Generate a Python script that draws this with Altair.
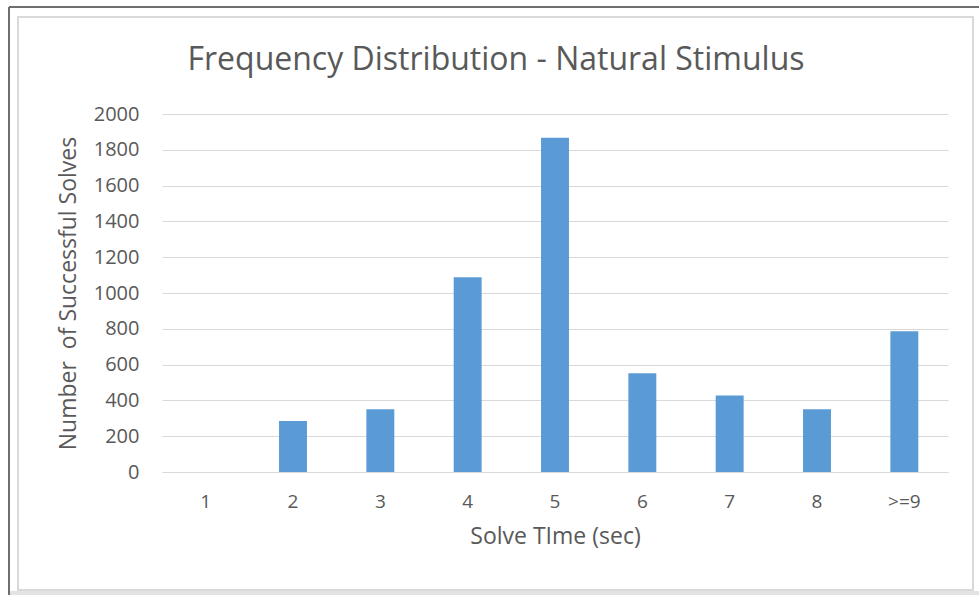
import altair as alt
import pandas as pd

categories = ["1", "2", "3", "4", "5", "6", "7", "8", ">=9"]
solves = [0, 285, 350, 1088, 1868, 551, 428, 350, 786]
y_ticks = list(range(0, 2001, 200))

df = pd.DataFrame({"time": categories, "count": solves})

TEXT = "#595959"
GRID = "#d9d9d9"
FONT = "Open Sans"

bars = alt.Chart(df).mark_bar(color="#5B9BD5").encode(
    x=alt.X(
        "time:N",
        sort=categories,
        scale=alt.Scale(paddingInner=0.68, paddingOuter=0.34),
        axis=alt.Axis(
            title="Solve TIme (sec)",
            labelAngle=0,
            labelPadding=20,
            titlePadding=14,
            ticks=False,
            domainColor=GRID,
            domainWidth=1.2,
            labelFontSize=19,
        ),
    ),
    y=alt.Y(
        "count:Q",
        scale=alt.Scale(domain=[0, 2000], nice=False),
        axis=alt.Axis(
            title="Number\u00a0\u00a0of Successful Solves",
            values=y_ticks,
            format="d",
            labelPadding=23,
            titlePadding=13,
            ticks=False,
            domain=False,
            gridColor=GRID,
            gridWidth=1.2,
            labelFontSize=20,
        ),
    ),
)

frame_data = alt.Data(values=[{"k": 0}])

frame = alt.Chart(frame_data).mark_rect(
    fill="white", fillOpacity=0, stroke=GRID, strokeWidth=2
).encode(
    x=alt.value(-144), x2=alt.value(811), y=alt.value(-97), y2=alt.value(476)
)
bottom_band = alt.Chart(frame_data).mark_rect(fill="#e3e3e3").encode(
    x=alt.value(-153), x2=alt.value(817), y=alt.value(477), y2=alt.value(481)
)
left_line = alt.Chart(frame_data).mark_rule(color="#6e6e6e", strokeWidth=2).encode(
    x=alt.value(-153), y=alt.value(-107), y2=alt.value(481)
)
top_line = alt.Chart(frame_data).mark_rule(color="#6e6e6e", strokeWidth=2).encode(
    x=alt.value(-153), x2=alt.value(817), y=alt.value(-107)
)

chart = (
    alt.layer(frame, bottom_band, left_line, top_line, bars)
    .properties(
        width=786,
        height=358,
        autosize=alt.AutoSizeParams(type="none"),
        padding={"left": 162, "top": 114, "right": 31, "bottom": 123},
        background="white",
        title=alt.TitleParams(
            "Frequency Distribution - Natural Stimulus",
            anchor="middle",
            frame="group",
            baseline="alphabetic",
            dx=-59,
            offset=-96,
            font=FONT,
            fontSize=32,
            fontWeight="normal",
            color=TEXT,
        ),
    )
    .configure_view(strokeWidth=0)
    .configure_axis(
        labelFont=FONT,
        titleFont=FONT,
        titleFontSize=23,
        titleFontWeight="normal",
        labelColor=TEXT,
        titleColor=TEXT,
    )
)

chart.save("out.html", embed_options={"renderer": "svg", "actions": False})
